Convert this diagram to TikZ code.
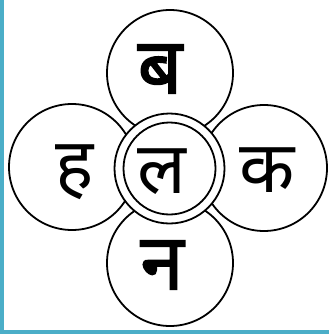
\documentclass[tikz,border=0pt]{standalone}
\usepackage{fontspec}
\newfontfamily\deva[Script=Devanagari]{Noto Sans}
\newfontfamily\devab[Script=Devanagari,FakeBold=2]{Noto Sans}
\definecolor{edge}{HTML}{4BAEC8}
\begin{document}
\begin{tikzpicture}[x=1pt,y=-1pt,
  petal/.style={circle,draw=black,line width=1.8pt,minimum size=126pt,inner sep=0pt},
  letter/.style={font=\deva\fontsize{72}{80}\selectfont,inner sep=0pt},
  boldletter/.style={font=\devab\fontsize{78}{86}\selectfont,inner sep=0pt}]
\useasboundingbox (0,0) rectangle (329,334);
\fill[white] (0,0) rectangle (329,334);
\fill[edge] (0,0) rectangle (4,334);
\fill[edge] (0,330) rectangle (329,334);
\coordinate (c) at (169.5,168.5);
\node[petal] (top) at (170,73) {};
\node[petal] (left) at (72,167) {};
\node[petal] (right) at (264,168) {};
\node[petal] (bottom) at (170,263) {};
\node[circle,draw=black,fill=white,line width=1.8pt,minimum size=110pt,inner sep=0pt] (ring) at (c) {};
\node[circle,draw=black,line width=1.8pt,minimum size=92pt,inner sep=0pt] (core) at (c) {};
\node[boldletter] (b) at (160,69) {ब};
\node[letter] (h) at (75,172) {ह};
\node[letter] (l) at (162,172) {ल};
\node[letter] (k) at (267,170) {क};
\node[boldletter] (n) at (162,265) {न};
\end{tikzpicture}
\end{document}
